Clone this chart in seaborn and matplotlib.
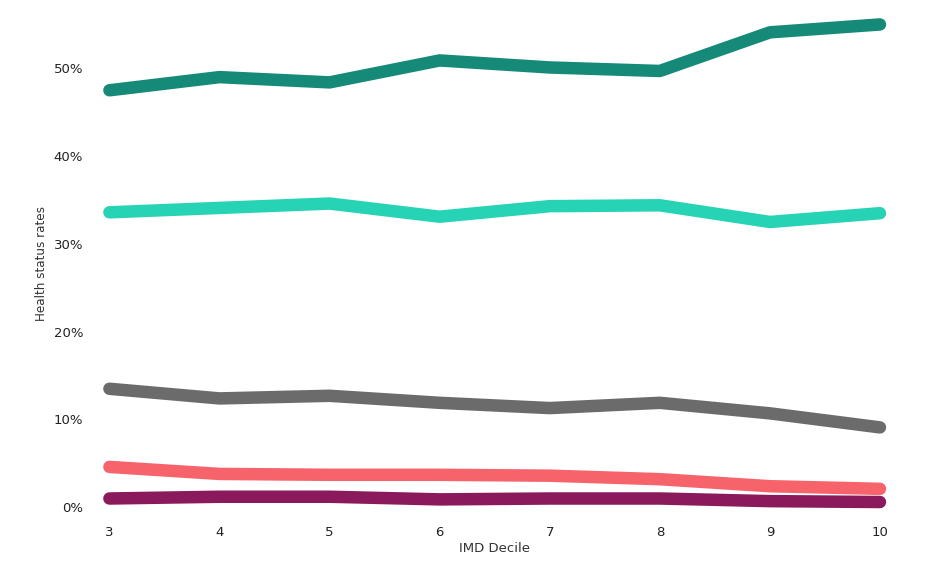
import matplotlib
matplotlib.use("Agg")
import matplotlib.pyplot as plt
import seaborn as sns
import pandas as pd
from matplotlib.ticker import PercentFormatter

deciles = [3, 4, 5, 6, 7, 8, 9, 10]
very_good = [47.5, 49.0, 48.4, 50.9, 50.1, 49.7, 54.1, 55.0]
good = [33.6, 34.1, 34.6, 33.1, 34.3, 34.4, 32.5, 33.5]
fair = [13.5, 12.4, 12.7, 11.9, 11.3, 11.9, 10.7, 9.1]
bad = [4.6, 3.8, 3.7, 3.7, 3.6, 3.2, 2.4, 2.1]
very_bad = [1.0, 1.2, 1.2, 0.9, 1.0, 1.0, 0.7, 0.6]
names = ["Very good", "Good", "Fair", "Bad", "Very bad"]
colors = ["#168a78", "#26d3b5", "#6b6b6b", "#f7636b", "#8a1a5c"]

rows = []
for n, vals in zip(names, [very_good, good, fair, bad, very_bad]):
    for d, v in zip(deciles, vals):
        rows.append({"IMD Decile": d, "rate": v, "status": n})
df = pd.DataFrame(rows)

sns.set_style("white")
fig = plt.figure(figsize=(9.29, 5.64), dpi=100)
ax = fig.add_axes([0.1, 0.085, 0.865, 0.895])
sns.lineplot(data=df, x="IMD Decile", y="rate", hue="status", palette=colors,
             linewidth=9, solid_capstyle="round", legend=False, ax=ax)
sns.despine(ax=ax, left=True, bottom=True)
ax.set_xlim(2.85, 10.15)
ax.set_ylim(-1, 56.5)
ax.set_xticks(deciles)
ax.set_yticks([0, 10, 20, 30, 40, 50])
ax.yaxis.set_major_formatter(PercentFormatter(decimals=0))
ax.tick_params(labelsize=9.5, colors="#222222")
ax.set_xlabel("IMD Decile", fontsize=9.5, color="#333333", labelpad=2)
ax.set_ylabel("Health status rates", fontsize=9.5, color="#333333", fontstretch="condensed", family="Liberation Sans Narrow" if False else None)
fig.savefig("out.png", dpi=100)
